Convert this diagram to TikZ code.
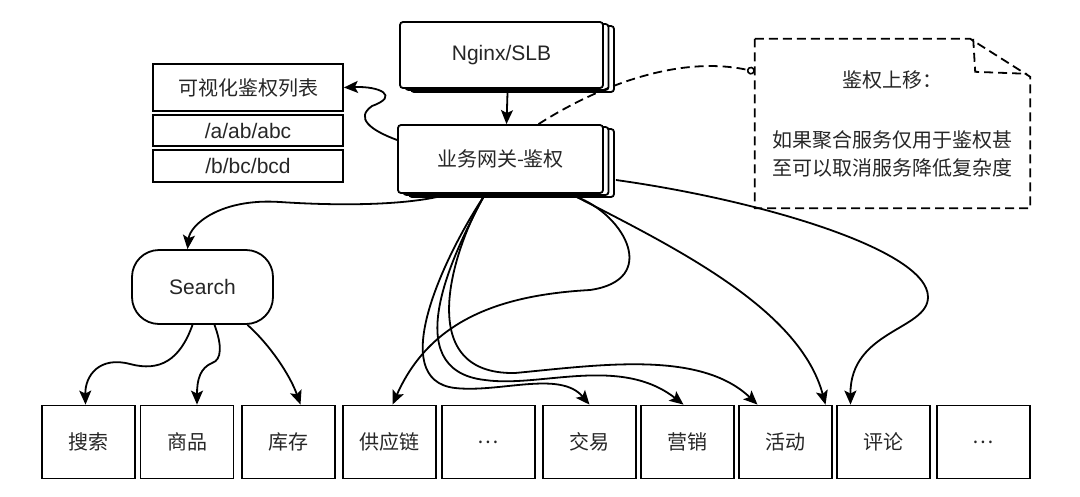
\documentclass[tikz,border=0pt]{standalone}
\usepackage{fontspec}
\setmainfont{Liberation Sans}
\newfontfamily\zh{Noto Sans CJK SC}
\usetikzlibrary{arrows.meta,shadows}

\begin{document}
\begin{tikzpicture}[x=1pt, y=-1pt,
        every node/.style={text=black!85, font=\fontsize{21pt}{26pt}\selectfont},
        zhfont/.style={font=\zh\fontsize{20pt}{28pt}\selectfont},
        stack/.style={draw, fill=white, line width=1.8pt, rounded corners=3pt, minimum width=203pt, minimum height=66pt,
            copy shadow={shadow xshift=11pt, shadow yshift=-4pt, line width=1.8pt},
            copy shadow={shadow xshift=5.5pt, shadow yshift=-2pt, line width=1.8pt}},
        listbox/.style={draw, line width=1.8pt, minimum width=190pt, inner sep=2pt},
        svc/.style={draw, line width=1.8pt, zhfont, minimum width=93pt, minimum height=73pt, inner sep=0pt},
        pill/.style={draw, line width=1.8pt, rounded corners=27pt, minimum width=141pt, minimum height=74pt},
        notebox/.style={zhfont, align=center, minimum width=275pt, minimum height=169pt, inner sep=0pt},
        arr/.style={-{Stealth[length=14pt, width=12pt, inset=3pt]}, line width=1.8pt},
        dashline/.style={line width=1.8pt, dash pattern=on 9pt off 5pt}]

        \useasboundingbox (0, 0) rectangle (1080, 496);

        \node[stack] (nginx) at (501.5, 55) { Nginx/SLB };
        \node[stack, zhfont, minimum width=205pt, minimum height=68pt] (gw) at (500.5, 159) { 业务网关-鉴权 };

        \node[listbox, zhfont, minimum height=47pt] (vis) at (248, 87.5) { 可视化鉴权列表 };
        \node[listbox, minimum height=31pt] (pa) at (248, 130.5) { /a/ab/abc };
        \node[listbox, minimum height=32pt] (pb) at (248, 166) { /b/bc/bcd };

        \node[pill] (search) at (202.5, 287) { Search };

        \node[svc] (ss) at (88.5, 442) { 搜索 };
        \node[svc] (sp) at (187, 442) { 商品 };
        \node[svc] (kc) at (288.5, 442) { 库存 };
        \node[svc] (gy) at (389.5, 442) { 供应链 };
        \node[svc] (e1) at (488.5, 442) { … };
        \node[svc] (jy) at (589.5, 442) { 交易 };
        \node[svc] (yx) at (687.5, 442) { 营销 };
        \node[svc] (hd) at (785.5, 442) { 活动 };
        \node[svc] (pl) at (883.5, 442) { 评论 };
        \node[svc] (e2) at (983.5, 442) { … };

        \node[notebox] (note) at (892.5, 123.5) { 鉴权上移：\\[32pt] 如果聚合服务仅用于鉴权甚\\ 至可以取消服务降低复杂度 };
        \draw[dashline] (note.north west) -- ([xshift=-60pt]note.north east) -- ([yshift=-38pt]note.north east)
            -- (note.south east) -- (note.south west) -- cycle;
        \draw[dashline] ([xshift=-57pt]note.north east) -- ([xshift=-55pt, yshift=-33pt]note.north east)
            -- ([xshift=-3pt, yshift=-35pt]note.north east);

        \draw[arr] ([xshift=6pt, yshift=-4pt]nginx.south) -- ([xshift=6pt]gw.north);
        \draw[arr] ([yshift=19pt]gw.west) .. controls (370, 130) and (355, 118) .. (372, 106)
            .. controls (400, 96) and (380, 86) .. (vis.east);
        \draw[arr] ([xshift=-63pt, yshift=-3pt]gw.south) .. controls (400, 205) and (340, 206) .. (280, 202)
            .. controls (220, 198) and (190, 225) .. ([xshift=-15pt]search.north);

        \draw[arr] ([xshift=-10pt]search.south) .. controls (180, 360) and (160, 372) .. (130, 364)
            .. controls (100, 356) and (85, 375) .. ([xshift=-3pt]ss.north);
        \draw[arr] ([xshift=12pt]search.south) .. controls (222, 345) and (222, 360) .. (212, 363)
            .. controls (200, 368) and (197, 380) .. ([xshift=10pt]sp.north);
        \draw[arr] ([xshift=45pt]search.south) .. controls (270, 345) and (290, 375) .. ([xshift=12pt]kc.north);

        \draw[arr] ([xshift=76pt, yshift=-3pt]gw.south) .. controls (625, 215) and (660, 280) .. (590, 290)
            .. controls (500, 295) and (430, 320) .. ([xshift=3pt]gy.north);
        \draw[arr] ([xshift=-17pt, yshift=-3pt]gw.south) .. controls (445, 255) and (385, 380) .. (455, 388)
            .. controls (500, 393) and (560, 370) .. (jy.north);
        \draw[arr] ([xshift=-17pt, yshift=-3pt]gw.south) .. controls (455, 250) and (395, 370) .. (485, 380)
            .. controls (540, 388) and (620, 355) .. ([xshift=-4pt]yx.north);
        \draw[arr] ([xshift=-17pt, yshift=-3pt]gw.south) .. controls (455, 245) and (410, 375) .. (515, 373)
            .. controls (600, 365) and (700, 350) .. ([xshift=-28pt]hd.north);
        \draw[arr] ([xshift=76pt, yshift=-3pt]gw.south) .. controls (680, 250) and (800, 310) .. ([xshift=40pt]hd.north);
        \draw[arr] ([xshift=12pt, yshift=-21pt]gw.east) .. controls (760, 200) and (928, 250) .. (928, 297)
            .. controls (928, 330) and (850, 330) .. ([xshift=-33pt]pl.north);

        \draw[dashline, -{Circle[open, length=8pt, line width=1.6pt]}] ([xshift=38pt]gw.north)
            .. controls (600, 85) and (680, 55) .. ([yshift=52pt]note.west);

    \end{tikzpicture}
\end{document}
